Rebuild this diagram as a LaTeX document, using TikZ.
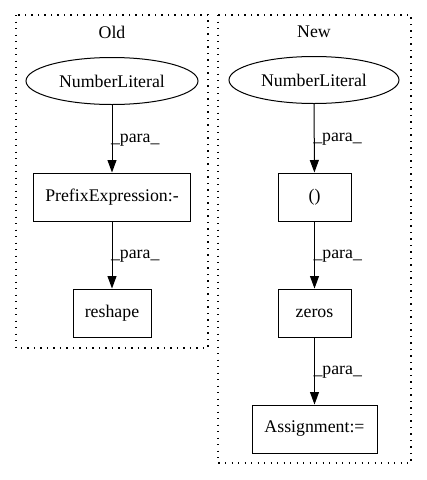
\documentclass[tikz,border=0pt]{standalone}
\usepackage{fontspec}
\setmainfont{Liberation Serif}
\usetikzlibrary{shapes.geometric,arrows.meta}
\begin{document}
\begin{tikzpicture}[x=1pt,y=-1pt,
  every node/.style={font=\fontsize{17.8}{20}\selectfont, inner sep=0pt},
  boxn/.style={draw, line width=1pt, rectangle, minimum height=48pt},
  elln/.style={draw, line width=1pt, ellipse, minimum width=172pt, minimum height=47pt},
  clus/.style={draw, line width=1.3pt, dash pattern=on 1.3pt off 5.2pt},
  edge/.style={draw, line width=1pt, -{Triangle[length=12.5pt,width=9pt]}},
  lbl/.style={anchor=west, xshift=-1.5pt, yshift=-1pt}]
\useasboundingbox (0,0) rectangle (427,480);
% clusters
\draw[clus] (16,15) rectangle (208,348);
\draw[clus] (218,15) rectangle (411,463);
\node (oldt) at (112,32) {Old};
\node (newt) at (314,32) {New};
% old
\node[elln] (nl1) at (112,81) {NumberLiteral};
\node[boxn, minimum width=157pt] (pe) at (112,197) {PrefixExpression:-};
\node[boxn, minimum width=78pt] (rs) at (112,313) {reshape};
\draw[edge] (nl1) -- node[lbl] {\_para\_} (pe);
\draw[edge] (pe) -- node[lbl] {\_para\_} (rs);
% new
\node[elln, minimum width=170pt] (nl2) at (314,80) {NumberLiteral};
\node[boxn, minimum width=73pt] (par) at (314.5,197) {()};
\node[boxn, minimum width=73pt] (zr) at (314.5,313) {zeros};
\node[boxn, minimum width=125pt] (as) at (314.5,429) {Assignment:=};
\draw[edge] (nl2) -- node[lbl] {\_para\_} (par);
\draw[edge] (par) -- node[lbl] {\_para\_} (zr);
\draw[edge] (zr) -- node[lbl] {\_para\_} (as);
\end{tikzpicture}
\end{document}
